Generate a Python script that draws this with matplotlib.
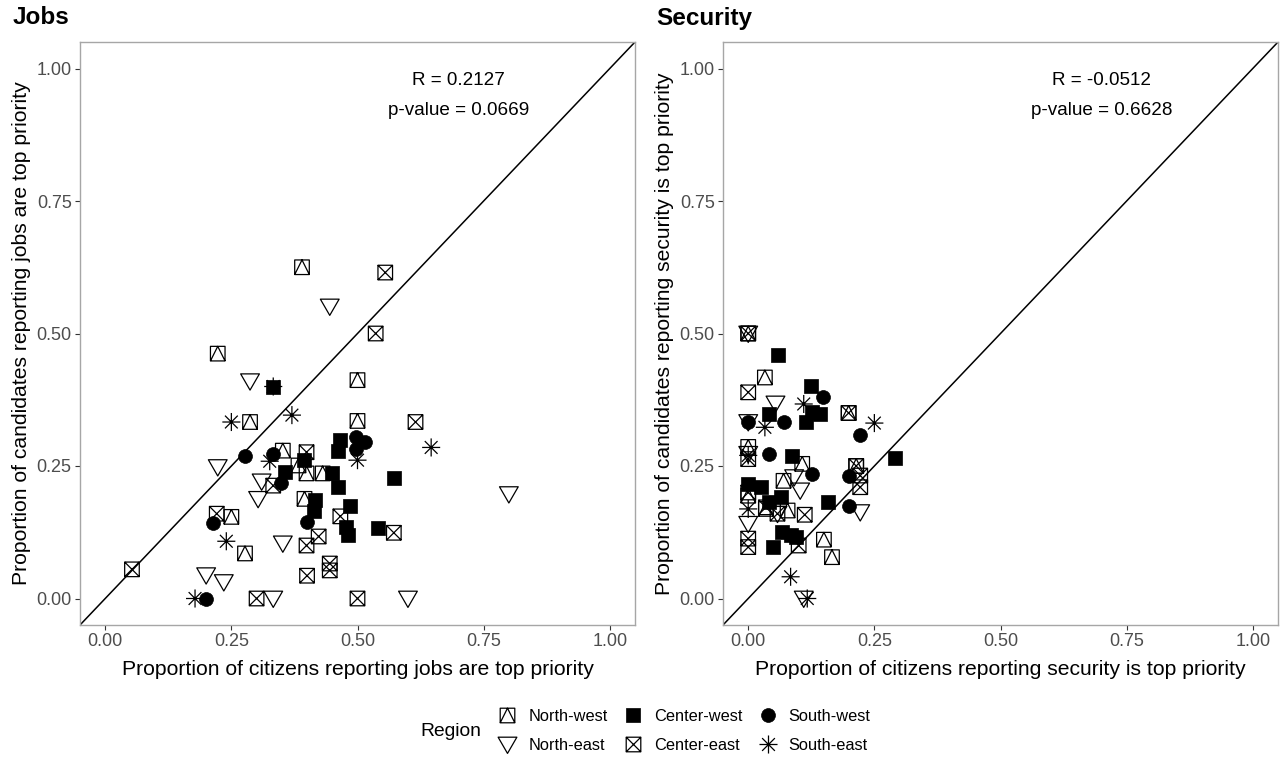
import numpy as np
import matplotlib
matplotlib.use("Agg")
import matplotlib.pyplot as plt
from matplotlib.path import Path
from matplotlib.lines import Line2D

plt.rcParams['font.family'] = ['Liberation Sans', 'DejaVu Sans']

# ---------------- data: (citizens, candidates) per region ----------------
regions = ["North-west", "North-east", "Center-west", "Center-east", "South-west", "South-east"]

jobs_nw_x = [0.39, 0.223, 0.50, 0.287, 0.50, 0.352, 0.399, 0.383, 0.431, 0.395, 0.25, 0.277]
jobs_nw_y = [0.625, 0.462, 0.412, 0.333, 0.335, 0.279, 0.236, 0.251, 0.236, 0.188, 0.154, 0.085]
jobs_ne_x = [0.445, 0.287, 0.223, 0.31, 0.303, 0.352, 0.20, 0.235, 0.333, 0.60, 0.80]
jobs_ne_y = [0.551, 0.41, 0.248, 0.221, 0.188, 0.104, 0.044, 0.031, 0.0, 0.0, 0.197]
jobs_cw_x = [0.333, 0.466, 0.461, 0.394, 0.356, 0.449, 0.461, 0.415, 0.414, 0.486, 0.478, 0.482, 0.54, 0.572]
jobs_cw_y = [0.40, 0.30, 0.279, 0.261, 0.238, 0.236, 0.211, 0.186, 0.166, 0.174, 0.135, 0.119, 0.133, 0.227]
jobs_ce_x = [0.555, 0.536, 0.615, 0.399, 0.333, 0.466, 0.572, 0.221, 0.423, 0.399, 0.053, 0.445, 0.445, 0.40, 0.30, 0.50]
jobs_ce_y = [0.615, 0.50, 0.333, 0.276, 0.213, 0.155, 0.124, 0.16, 0.117, 0.10, 0.055, 0.066, 0.053, 0.043, 0.0, 0.0]
jobs_sw_x = [0.497, 0.514, 0.497, 0.278, 0.333, 0.349, 0.214, 0.40, 0.20]
jobs_sw_y = [0.304, 0.296, 0.282, 0.269, 0.273, 0.217, 0.143, 0.144, 0.0]
jobs_se_x = [0.333, 0.25, 0.37, 0.50, 0.326, 0.646, 0.24, 0.178]
jobs_se_y = [0.40, 0.333, 0.346, 0.261, 0.259, 0.285, 0.108, 0.0]

sec_nw_x = [0.0, 0.033, 0.199, 0.0, 0.107, 0.07, 0.214, 0.0, 0.035, 0.078, 0.15, 0.166]
sec_nw_y = [0.50, 0.417, 0.35, 0.286, 0.254, 0.222, 0.25, 0.194, 0.169, 0.166, 0.111, 0.078]
sec_ne_x = [0.0, 0.054, 0.0, 0.0, 0.091, 0.103, 0.222, 0.0, 0.11, 0.058]
sec_ne_y = [0.50, 0.368, 0.333, 0.273, 0.229, 0.204, 0.163, 0.141, 0.0, 0.16]
sec_cw_x = [0.059, 0.125, 0.126, 0.143, 0.114, 0.042, 0.087, 0.291, 0.0, 0.026, 0.041, 0.064, 0.159, 0.067, 0.084, 0.094, 0.049]
sec_cw_y = [0.459, 0.401, 0.351, 0.348, 0.333, 0.348, 0.268, 0.266, 0.216, 0.21, 0.182, 0.191, 0.182, 0.125, 0.119, 0.116, 0.097]
sec_ce_x = [0.0, 0.0, 0.199, 0.0, 0.214, 0.222, 0.222, 0.0, 0.058, 0.035, 0.112, 0.10, 0.0, 0.0]
sec_ce_y = [0.50, 0.389, 0.35, 0.263, 0.25, 0.232, 0.21, 0.20, 0.16, 0.172, 0.158, 0.10, 0.113, 0.097]
sec_sw_x = [0.149, 0.222, 0.07, 0.0, 0.041, 0.126, 0.199, 0.199]
sec_sw_y = [0.381, 0.308, 0.333, 0.333, 0.273, 0.235, 0.232, 0.175]
sec_se_x = [0.11, 0.25, 0.033, 0.0, 0.0, 0.084, 0.117]
sec_se_y = [0.367, 0.331, 0.323, 0.27, 0.169, 0.041, 0.0]

jobs_stats = ("R = 0.2127", "p-value = 0.0669")
sec_stats = ("R = -0.0512", "p-value = 0.6628")
ticks = [0.0, 0.25, 0.5, 0.75, 1.0]
tick_labels = ["0.00", "0.25", "0.50", "0.75", "1.00"]

# ---------------- marker shapes ----------------
M, L, C = Path.MOVETO, Path.LINETO, Path.CLOSEPOLY
sq = [(-1, -1), (1, -1), (1, 1), (-1, 1), (-1, -1)]
sq_codes = [M, L, L, L, C]
box_tri = Path(sq + [(-1, -1), (0, 1), (1, -1)], sq_codes + [M, L, L])
box_x = Path(sq + [(-1, -1), (1, 1), (-1, 1), (1, -1)], sq_codes + [M, L, M, L])
tri_down = Path([(-1, 0.78), (1, 0.78), (0, -0.95), (-1, 0.78)], [M, L, L, C])
d = np.sqrt(0.5)
star = Path([(-1, 0), (1, 0), (0, -1), (0, 1), (-d, -d), (d, d), (-d, d), (d, -d)],
            [M, L, M, L, M, L, M, L])
square = Path(sq, sq_codes)

styles = {
    "North-west": dict(marker=box_tri, s=10.5 ** 2, fc="none", ec="black", lw=0.9),
    "North-east": dict(marker=tri_down, s=13.5 ** 2, fc="none", ec="black", lw=0.9),
    "Center-west": dict(marker=square, s=9.5 ** 2, fc="black", ec="black", lw=0.5),
    "Center-east": dict(marker=box_x, s=10.5 ** 2, fc="none", ec="black", lw=0.9),
    "South-west": dict(marker="o", s=10 ** 2, fc="black", ec="black", lw=0.5),
    "South-east": dict(marker=star, s=13 ** 2, fc="none", ec="black", lw=0.9),
}

jobs = {
    "North-west": (jobs_nw_x, jobs_nw_y), "North-east": (jobs_ne_x, jobs_ne_y),
    "Center-west": (jobs_cw_x, jobs_cw_y), "Center-east": (jobs_ce_x, jobs_ce_y),
    "South-west": (jobs_sw_x, jobs_sw_y), "South-east": (jobs_se_x, jobs_se_y),
}
security = {
    "North-west": (sec_nw_x, sec_nw_y), "North-east": (sec_ne_x, sec_ne_y),
    "Center-west": (sec_cw_x, sec_cw_y), "Center-east": (sec_ce_x, sec_ce_y),
    "South-west": (sec_sw_x, sec_sw_y), "South-east": (sec_se_x, sec_se_y),
}

W, H = 1284, 757
fig = plt.figure(figsize=(W / 100, H / 100), dpi=100)


def panel(left, data, stats, title, xlabel, ylabel):
    ax = fig.add_axes([left / W, (H - 625) / H, 555 / W, 583 / H])
    for name in regions:
        st = styles[name]
        x, y = data[name]
        ax.scatter(x, y, marker=st["marker"], s=st["s"], facecolors=st["fc"],
                   edgecolors=st["ec"], linewidths=st["lw"], zorder=3)
    ax.axline((0, 0), (1, 1), color="black", lw=1.1, zorder=2)
    ax.set_xlim(-0.05, 1.05)
    ax.set_ylim(-0.05, 1.05)
    ax.set_xticks(ticks, tick_labels)
    ax.set_yticks(ticks, tick_labels)
    ax.tick_params(length=3.5, width=0.8, color="#333333", labelcolor="#4d4d4d",
                   labelsize=13, pad=2.5)
    for sp in ax.spines.values():
        sp.set_color("#a6a6a6")
        sp.set_linewidth(1.0)
    ax.set_xlabel(xlabel, fontsize=15.2, labelpad=7)
    ax.set_ylabel(ylabel, fontsize=15.2, labelpad=4)
    ax.text(0.7, 0.977, stats[0], ha="center", va="center", fontsize=13.6)
    ax.text(0.7, 0.921, stats[1], ha="center", va="center", fontsize=13.6)
    fig.text((left - 67) / W, 1 - 18 / H, title, fontsize=17.5, fontweight="bold",
             ha="left", va="center")
    return ax


panel(80, jobs, jobs_stats, "Jobs",
      "Proportion of citizens reporting jobs are top priority",
      "Proportion of candidates reporting jobs are top priority")
panel(723, security, sec_stats, "Security",
      "Proportion of citizens reporting security is top priority",
      "Proportion of candidates reporting security is top priority")

handles = []
for name in regions:
    st = styles[name]
    handles.append(Line2D([], [], linestyle="none", marker=st["marker"],
                          markersize=np.sqrt(st["s"]),
                          markerfacecolor=st["fc"],
                          markeredgecolor=st["ec"], markeredgewidth=st["lw"],
                          label=name))
fig.legend(handles=handles, labels=regions, ncol=3, frameon=False,
           loc="center left", bbox_to_anchor=(499 / W, 1 - 731 / H),
           fontsize=11.8, handlelength=1.0, handletextpad=0.78,
           columnspacing=1.05, labelspacing=0.83, borderpad=0, borderaxespad=0)
fig.text(420 / W, 1 - 732 / H, "Region", fontsize=13.9, ha="left", va="center")

fig.savefig("out.png", dpi=100)
